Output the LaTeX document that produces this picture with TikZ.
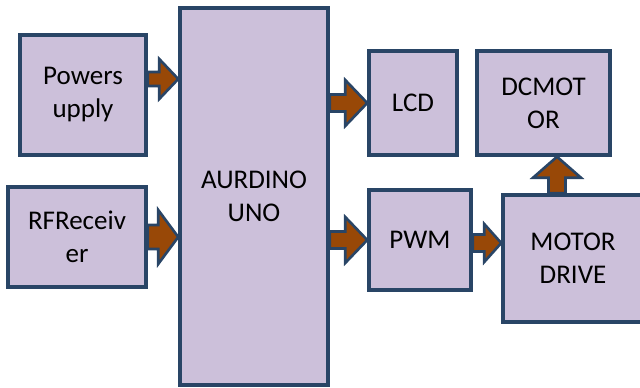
\documentclass[tikz,border=0pt]{standalone}
\usepackage{fontspec}
\setmainfont{Carlito}
\usetikzlibrary{calc}
\definecolor{bord}{HTML}{294566}
\definecolor{boxfill}{HTML}{CCC0DA}
\definecolor{arrfill}{HTML}{984807}
\tikzset{
  blockbox/.style={draw=bord, fill=boxfill, line width=3.5pt, inner sep=0pt,
    align=center, font=\fontsize{27}{33}\selectfont, text=black},
  fatarrow/.style={draw=bord, fill=arrfill, line width=2.6pt, line join=miter}
}
\newcommand{\rarrow}[5]{\draw[fatarrow] let \p1=(#1), \p2=(#2) in
  (\x1,\y1+#3) -- (\x2-#5,\y1+#3) -- (\x2-#5,\y1+#4) -- (\x2,\y1) --
  (\x2-#5,\y1-#4) -- (\x2-#5,\y1-#3) -- (\x1,\y1-#3) -- cycle;}
\newcommand{\uarrow}[5]{\draw[fatarrow] let \p1=(#1), \p2=(#2) in
  (\x1-#3,\y1) -- (\x1-#3,\y2-#5) -- (\x1-#4,\y2-#5) -- (\x1,\y2) --
  (\x1+#4,\y2-#5) -- (\x1+#3,\y2-#5) -- (\x1+#3,\y1) -- cycle;}
\begin{document}
\begin{tikzpicture}[x=1pt,y=-1pt]
\useasboundingbox (0,0) rectangle (640,388);
\clip (0,0) rectangle (640,388);
\fill[white] (0,0) rectangle (640,388);
\node[blockbox, minimum width=126pt, minimum height=120pt] (ps) at (83,95) {Powers\\upply};
\node[blockbox, minimum width=138pt, minimum height=100pt] (rf) at (77,237) {RFReceiv\\er};
\node[blockbox, minimum width=148pt, minimum height=377pt] (ard) at (254,196.5) {AURDINO\\UNO};
\node[blockbox, minimum width=88pt, minimum height=104pt] (lcd) at (413,103) {LCD};
\node[blockbox, minimum width=133pt, minimum height=104pt] (dc) at (543.5,103) {DCMOT\\OR};
\node[blockbox, minimum width=102pt, minimum height=100pt] (pwm) at (420,240) {PWM};
\node[blockbox, minimum width=140pt, minimum height=127pt] (md) at (573,258.5) {MOTOR\\DRIVE};
\rarrow{[yshift=16pt]ps.east}{ard.west}{7pt}{20pt}{19pt}
\rarrow{rf.east}{ard.west}{12pt}{27pt}{20pt}
\rarrow{ard.east |- lcd.west}{lcd.west}{8.5pt}{23pt}{22pt}
\rarrow{ard.east |- pwm.west}{pwm.west}{8.5pt}{23pt}{22pt}
\rarrow{[yshift=-3pt]pwm.east}{md.west}{8.5pt}{19pt}{17pt}
\uarrow{[xshift=-16pt]md.north}{dc.south}{8.5pt}{24pt}{21pt}
\end{tikzpicture}
\end{document}
